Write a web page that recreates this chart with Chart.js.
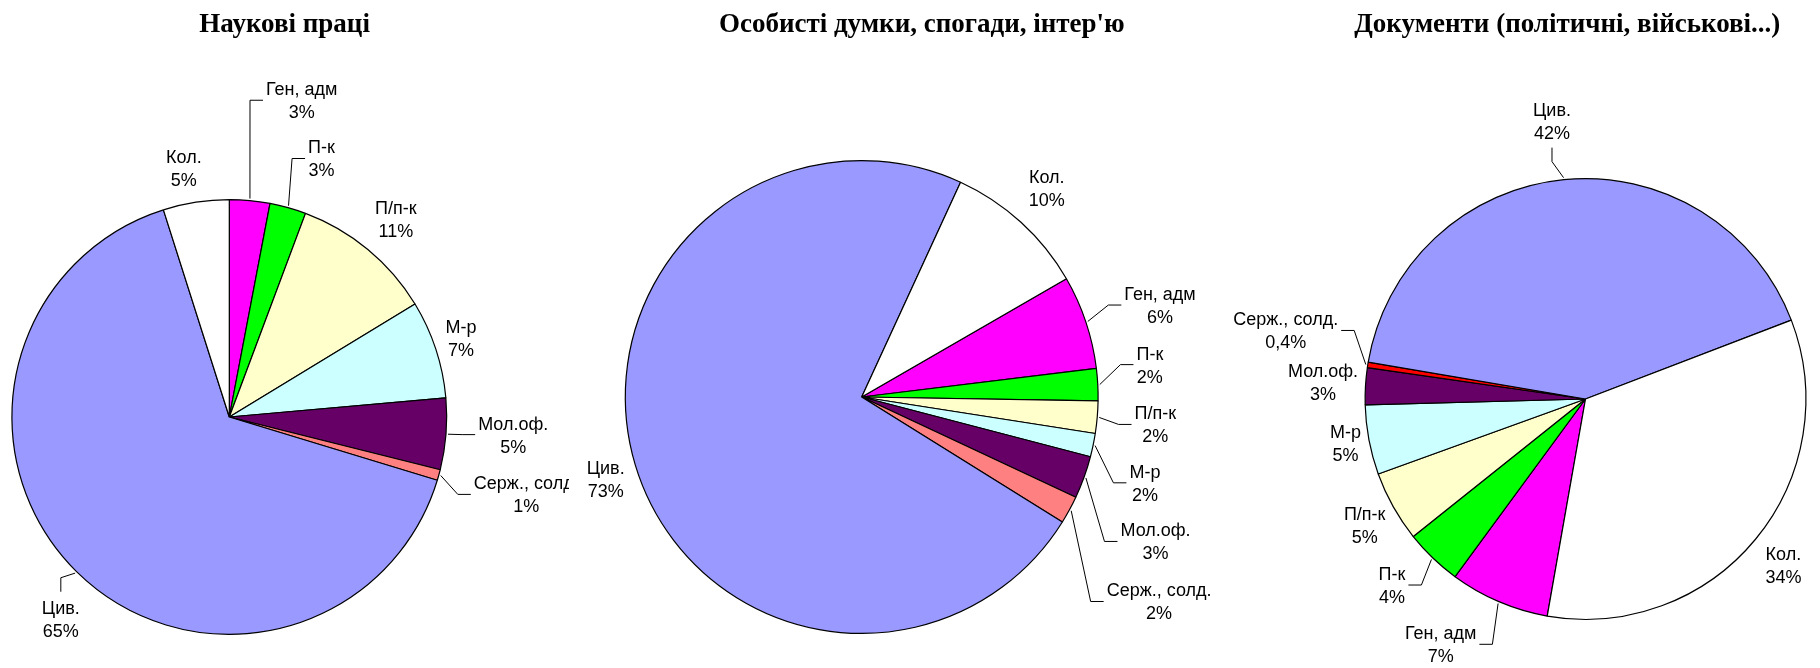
<!DOCTYPE html>
<html lang="uk">
<head>
    <meta charset="UTF-8">
    <title>Джерела за категоріями авторів</title>
    <style>
        html, body {
            margin: 0;
            padding: 0;
            background: #fff;
            overflow: hidden;
        }
        .wrap {
            position: relative;
            width: 1820px;
            height: 668px;
        }
        .wrap canvas {
            position: absolute;
            top: 0;
        }
    </style>
</head>
<body>
    <div class="wrap">
        <canvas id="chartScience" width="569" height="668" style="left:0px"></canvas>
        <canvas id="chartMemoirs" width="700" height="668" style="left:569px"></canvas>
        <canvas id="chartDocs" width="620" height="668" style="left:1200px"></canvas>
    </div>

    <script src="https://cdn.jsdelivr.net/npm/chart.js"></script>
    <script>
        // categories (clockwise order in every pie)
        const categories = ['Ген, адм', 'П-к', 'П/п-к', 'М-р', 'Мол.оф.', 'Серж., солд.', 'Цив.', 'Кол.'];

        // shares, %
        const scienceValues  = [3.0, 2.7, 10.6, 7.3, 5.3, 0.8, 65.4, 4.9];
        const memoirValues   = [6.4, 2.2, 2.2, 1.6, 2.9, 1.9, 73.0, 9.8];
        const documentValues = [7.3, 4.2, 5.2, 5.1, 2.7, 0.4, 41.5, 33.6];

        const titles = ['Наукові праці', "Особисті думки, спогади, інтер'ю", 'Документи (політичні, військові...)'];

        const sliceColors = ['#FF00FF', '#00FF00', '#FFFFCC', '#CCFFFF', '#660066', '#FF8080', '#9999FF', '#FFFFFF'];
        const docColors   = ['#FF00FF', '#00FF00', '#FFFFCC', '#CCFFFF', '#660066', '#FF0000', '#9999FF', '#FFFFFF'];

        // label centres relative to pie centre, in radii
        const scienceLabelPos = [[0.333, -1.457], [0.424, -1.189], [0.766, -0.911], [1.066, -0.363],
                                 [1.306, 0.081], [1.366, 0.356], [-0.775, 0.928], [-0.209, -1.147]];
        const memoirLabelPos  = [[1.262, -0.389], [1.219, -0.137], [1.242, 0.116], [1.198, 0.363],
                                 [1.243, 0.611], [1.258, 0.865], [-1.083, 0.346], [0.783, -0.884]];
        const docLabelPos     = [[-0.657, 1.113], [-0.878, 0.844], [-1.002, 0.571], [-1.089, 0.2],
                                 [-1.191, -0.077], [-1.36, -0.311], [-0.152, -1.263], [0.898, 0.752]];

        function fmtPct(v) {
            if (v < 0.5) return v.toFixed(1).replace('.', ',') + '%';
            return Math.round(v) + '%';
        }

        // labels with leader lines + title, drawn after the slices
        const pieLabels = {
            id: 'pieLabels',
            afterDatasetsDraw(chart, args, opts) {
                const ctx = chart.ctx;
                const arcs = chart.getDatasetMeta(0).data;
                const values = chart.data.datasets[0].data;
                ctx.save();
                ctx.fillStyle = '#000';
                ctx.strokeStyle = '#000';
                ctx.lineWidth = 1;
                ctx.textAlign = 'center';
                ctx.textBaseline = 'alphabetic';
                ctx.font = '18px "Liberation Sans", Arial, sans-serif';

                arcs.forEach(function(arc, i) {
                    const mid = (arc.startAngle + arc.endAngle) / 2;
                    const R = arc.outerRadius;
                    const ax = arc.x + Math.cos(mid) * (R + 2);
                    const ay = arc.y + Math.sin(mid) * (R + 2);
                    const cx = arc.x + opts.labelPos[i][0] * R;
                    const cy = arc.y + opts.labelPos[i][1] * R;
                    const lines = [chart.data.labels[i], fmtPct(values[i])];
                    const w = Math.max(...lines.map(t => ctx.measureText(t).width));

                    ctx.fillText(lines[0], cx, cy - 11.5 + 6.4);
                    ctx.fillText(lines[1], cx, cy + 11.5 + 6.4);

                    const left = cx - w / 2, right = cx + w / 2;
                    const top = cy - 18, bottom = cy + 18;
                    const gx = Math.max(left - ax, 0, ax - right);
                    const gy = Math.max(top - ay, 0, ay - bottom);
                    if (Math.hypot(gx, gy) > 20) {
                        let ex, ey, kx, ky;
                        if (ax < left - 3) {
                            ex = left - 3; ey = cy; kx = ex - 13; ky = ey;
                        } else if (ax > right + 3) {
                            ex = right + 3; ey = cy; kx = ex + 13; ky = ey;
                        } else if (ay < cy) {
                            ex = cx; ey = top - 9; kx = ex; ky = ey - 14;
                        } else {
                            ex = cx; ey = bottom + 9; kx = ex; ky = ey + 14;
                        }
                        ctx.beginPath();
                        ctx.moveTo(ax, ay);
                        ctx.lineTo(kx, ky);
                        ctx.lineTo(ex, ey);
                        ctx.stroke();
                    }
                });

                ctx.font = 'bold 27px "Liberation Serif", "Times New Roman", serif';
                ctx.fillText(opts.title, opts.titleX, 32);
                ctx.restore();
            }
        };

        function makePie(id, values, colors, place, title, labelPos) {
            const canvas = document.getElementById(id);
            const W = canvas.width, H = canvas.height;
            return new Chart(canvas, {
                type: 'pie',
                data: {
                    labels: categories,
                    datasets: [{
                        data: values,
                        backgroundColor: colors,
                        borderColor: '#000',
                        borderWidth: 1.2
                    }]
                },
                options: {
                    responsive: false,
                    animation: false,
                    events: [],
                    rotation: place.rotation,
                    layout: {
                        padding: {
                            left: place.cx - place.r,
                            right: W - place.cx - place.r,
                            top: place.cy - place.r,
                            bottom: H - place.cy - place.r
                        }
                    },
                    plugins: {
                        legend: { display: false },
                        tooltip: { enabled: false },
                        pieLabels: { title: title, titleX: place.titleX, labelPos: labelPos }
                    }
                },
                plugins: [pieLabels]
            });
        }

        makePie('chartScience', scienceValues, sliceColors,
            { cx: 229.3, cy: 417, r: 218, rotation: 0, titleX: 284.6 }, titles[0], scienceLabelPos);
        makePie('chartMemoirs', memoirValues, sliceColors,
            { cx: 292.7, cy: 397, r: 237, rotation: 60, titleX: 352.8 }, titles[1], memoirLabelPos);
        makePie('chartDocs', documentValues, docColors,
            { cx: 385.5, cy: 399, r: 221, rotation: 190, titleX: 367.3 }, titles[2], docLabelPos);
    </script>
</body>
</html>
